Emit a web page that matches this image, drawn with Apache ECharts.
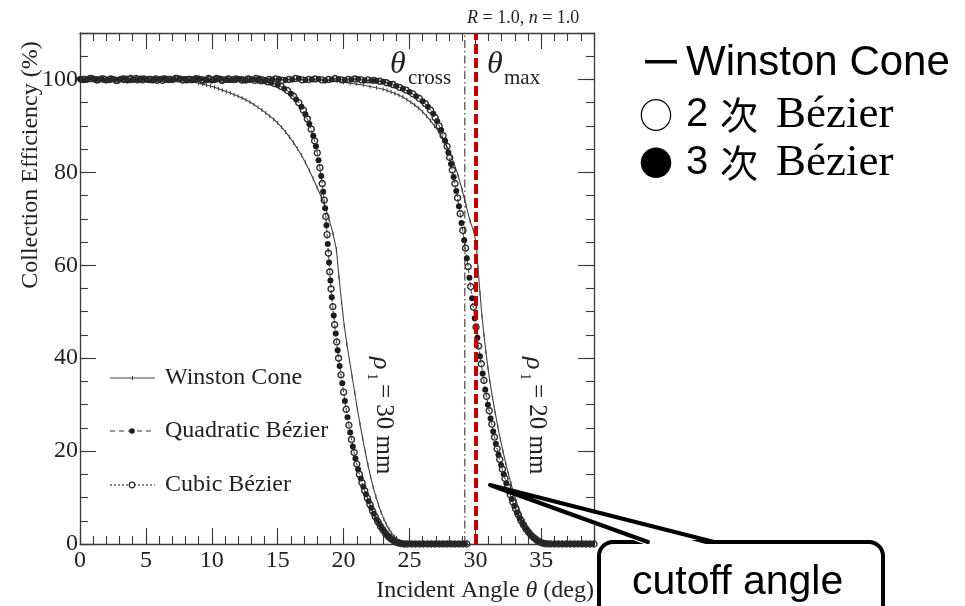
<!DOCTYPE html>
<html><head><meta charset="utf-8">
<script src="https://cdn.jsdelivr.net/npm/echarts@6/dist/echarts.min.js"></script>
<style>html,body{margin:0;padding:0;background:#fff}#c{width:965px;height:606px}</style>
</head><body><div id="c"></div>
<script>
// ---- data ----
const xTickLabels = [0, 5, 10, 15, 20, 25, 30, 35];
const yTickLabels = [0, 20, 40, 60, 80, 100];

const winston30 = [[0,100],[1,100],[2,100],[3,100],[4,100],[5,100],[6,100],[7,99.9],[8,99.7],[8.5,99.5],[9,99.2],[9.3,99],[9.6,98.8],[9.9,98.6],[10.2,98.3],[10.5,98],[10.8,97.7],[11.1,97.4],[11.4,97.1],[11.7,96.7],[12,96.4],[12.3,96],[12.6,95.6],[12.9,95.1],[13.2,94.6],[13.5,94],[13.8,93.4],[14.1,92.8],[14.4,92.1],[14.7,91.4],[15,90.6],[15.3,89.7],[15.6,88.7],[15.9,87.6],[16.2,86.4],[16.5,85.1],[16.8,83.7],[17.1,82.1],[17.4,80.4],[17.7,78.6],[18,76.7],[18.3,74.8],[18.6,72.6],[18.9,69.9],[19.2,66.8],[19.45,63.5],[19.65,57.5],[19.85,52],[20.05,47],[20.25,43],[20.45,39.5],[20.65,36],[20.85,32.5],[21.05,29],[21.25,25.8],[21.45,22.7],[21.65,19.8],[21.85,17],[22.05,14.5],[22.25,12.2],[22.45,10.2],[22.65,8.4],[22.85,6.8],[23.05,5.4],[23.25,4.2],[23.45,3.2],[23.65,2.3],[23.85,1.6],[24.05,1],[24.25,0.6],[24.45,0.3],[24.65,0.1],[24.9,0],[25.5,0],[26.5,0],[27.5,0],[28.5,0],[29.3,0]];

const winston20 = [[0,100],[2,100],[4,100],[6,100],[8,100],[10,100],[12,100],[14,100],[16,100],[18,99.9],[19,99.8],[19.5,99.6],[20,99.4],[20.5,99.2],[21,99],[21.5,98.8],[22,98.5],[22.5,98.2],[23,97.9],[23.3,97.6],[23.6,97.3],[23.9,97],[24.2,96.6],[24.5,96.2],[24.8,95.7],[25.1,95.1],[25.4,94.5],[25.7,93.8],[26,93],[26.3,92.1],[26.6,91.1],[26.9,90],[27.2,88.8],[27.5,87.4],[27.8,85.8],[28.1,84],[28.4,81.8],[28.7,79.2],[29,76.2],[29.3,72.8],[29.6,69.5],[29.85,67.5],[30.05,65],[30.2,59.5],[30.35,54],[30.5,49],[30.65,45],[30.8,41.3],[30.95,38],[31.1,35],[31.3,31.5],[31.5,28.3],[31.7,25.3],[31.9,22.5],[32.1,19.9],[32.3,17.4],[32.5,15.1],[32.7,13],[32.9,11],[33.1,9.2],[33.3,7.6],[33.5,6.2],[33.7,5],[33.9,3.9],[34.1,3],[34.3,2.2],[34.5,1.6],[34.7,1.1],[34.9,0.7],[35.1,0.4],[35.3,0.2],[35.5,0.05],[35.8,0],[36.5,0],[37.5,0],[38.5,0],[39,0]];

const quad30 = [[0,100.1],[0.5,99.9],[1,100.2],[1.5,100],[2,99.8],[2.5,100.1],[3,100],[3.5,100.2],[4,99.9],[4.5,100],[5,100.1],[5.5,99.8],[6,100],[6.5,100.2],[7,99.9],[7.5,100],[8,100.1],[8.5,99.9],[9,100.2],[9.5,100],[10,99.8],[10.5,100.1],[11,100],[11.5,99.9],[12,100.1],[12.5,99.8],[13,100],[13.5,99.8],[14,99.6],[14.5,99.3],[15,98.8],[15.5,98],[16,96.9],[16.4,95.7],[16.8,94.1],[17.1,92.5],[17.4,90.4],[17.7,87.9],[17.9,85.6],[18.1,82.6],[18.3,79.2],[18.45,75.8],[18.6,72.3],[18.7,68.6],[18.8,64.6],[18.9,60.6],[19,56.7],[19.1,53.1],[19.25,49.2],[19.4,45.3],[19.55,41.7],[19.7,38.3],[19.9,34.6],[20.1,30.8],[20.3,27.3],[20.5,24],[20.7,21],[20.9,18.4],[21.1,16.1],[21.3,14.1],[21.5,12.3],[21.7,10.7],[21.9,9.2],[22.1,7.8],[22.3,6.5],[22.5,5.3],[22.7,4.3],[22.9,3.4],[23.1,2.6],[23.3,1.9],[23.5,1.3],[23.7,0.85],[23.9,0.5],[24.1,0.25],[24.3,0.1],[24.5,0.03],[24.7,0],[25,0],[25.3,0],[25.6,0],[25.9,0],[26.2,0],[26.5,0],[26.8,0],[27.1,0],[27.4,0],[27.7,0],[28,0],[28.3,0],[28.6,0],[28.9,0],[29.2,0]];

const cubic30 = [[0.25,100],[0.75,100.2],[1.25,99.9],[1.75,100.1],[2.25,100],[2.75,99.8],[3.25,100.1],[3.75,100],[4.25,100.2],[4.75,99.9],[5.25,100],[5.75,100.1],[6.25,99.8],[6.75,100],[7.25,100.2],[7.75,99.9],[8.25,100],[8.75,100.1],[9.25,99.9],[9.75,100.2],[10.25,100],[10.75,99.8],[11.25,100.1],[11.75,100],[12.25,99.9],[12.75,100.1],[13.25,99.8],[13.75,99.7],[14.25,99.5],[14.75,99.1],[15.25,98.5],[15.75,97.6],[16.2,96.4],[16.6,95],[16.95,93.4],[17.25,91.5],[17.55,89.3],[17.8,86.8],[18,84.2],[18.2,81],[18.38,77.6],[18.53,74],[18.65,70.5],[18.75,66.6],[18.85,62.6],[18.95,58.6],[19.05,54.9],[19.18,51.1],[19.32,47.2],[19.48,43.5],[19.62,40],[19.8,36.4],[20,32.7],[20.2,29],[20.4,25.6],[20.6,22.5],[20.8,19.7],[21,17.2],[21.2,15],[21.4,13.2],[21.6,11.5],[21.8,9.9],[22,8.5],[22.2,7.1],[22.4,5.9],[22.6,4.8],[22.8,3.8],[23,3],[23.2,2.2],[23.4,1.6],[23.6,1.1],[23.8,0.7],[24,0.4],[24.2,0.2],[24.4,0.08],[24.6,0],[24.85,0],[25.15,0],[25.45,0],[25.75,0],[26.05,0],[26.35,0],[26.65,0],[26.95,0],[27.25,0],[27.55,0],[27.85,0],[28.15,0],[28.45,0],[28.75,0],[29.05,0],[29.35,0]];

const quad20 = [[0.1,99.9],[0.6,100.1],[1.1,100],[1.6,100.2],[2.1,99.9],[2.6,100],[3.1,100.1],[3.6,99.8],[4.1,100],[4.6,100.2],[5.1,99.9],[5.6,100],[6.1,100.1],[6.6,99.9],[7.1,100],[7.6,100.2],[8.1,99.8],[8.6,100],[9.1,100.1],[9.6,99.9],[10.1,100],[10.6,100.2],[11.1,99.9],[11.6,100],[12.1,100.1],[12.6,99.8],[13.1,100],[13.6,100.2],[14.1,99.9],[14.6,100],[15.1,100.1],[15.6,99.9],[16.1,100],[16.6,100.2],[17.1,99.9],[17.6,100],[18.1,100.1],[18.6,99.8],[19.1,100],[19.6,100.1],[20.1,99.9],[20.6,100],[21.1,100.1],[21.6,99.8],[22.1,99.8],[22.5,99.7],[23,99.5],[23.5,99.1],[24,98.6],[24.5,98],[25,97.3],[25.5,96.4],[26,95.3],[26.4,94.1],[26.8,92.6],[27.1,91],[27.4,89.1],[27.7,86.8],[27.95,84.3],[28.15,81.8],[28.35,79],[28.55,76],[28.75,72.7],[28.95,69.1],[29.15,65.4],[29.35,61.5],[29.55,57.3],[29.75,52.9],[29.95,48.6],[30.15,44.4],[30.35,40.4],[30.55,36.7],[30.75,33.2],[30.95,30],[31.15,27],[31.35,24.2],[31.55,21.6],[31.75,19.2],[31.95,17],[32.15,15],[32.35,13.1],[32.55,11.3],[32.75,9.7],[32.95,8.2],[33.15,6.8],[33.35,5.6],[33.55,4.5],[33.75,3.6],[33.95,2.8],[34.15,2.1],[34.35,1.5],[34.55,1],[34.75,0.6],[34.95,0.35],[35.15,0.15],[35.35,0.05],[35.55,0],[35.85,0],[36.15,0],[36.45,0],[36.75,0],[37.05,0],[37.35,0],[37.65,0],[37.95,0],[38.25,0],[38.55,0],[38.85,0]];

const cubic20 = [[0.35,100],[0.85,100.2],[1.35,99.9],[1.85,100],[2.35,100.1],[2.85,99.8],[3.35,100],[3.85,100.2],[4.35,99.9],[4.85,100.1],[5.35,100],[5.85,99.8],[6.35,100.1],[6.85,100],[7.35,100.2],[7.85,99.9],[8.35,100],[8.85,100.1],[9.35,99.8],[9.85,100],[10.35,100.2],[10.85,99.9],[11.35,100],[11.85,100.1],[12.35,99.9],[12.85,100],[13.35,100.2],[13.85,99.9],[14.35,100],[14.85,100.1],[15.35,99.8],[15.85,100],[16.35,100.2],[16.85,99.9],[17.35,100],[17.85,100.1],[18.35,99.9],[18.85,100],[19.35,100.2],[19.85,99.9],[20.35,100],[20.85,100.1],[21.35,99.9],[21.85,99.9],[22.3,99.8],[22.75,99.6],[23.25,99.3],[23.75,98.9],[24.25,98.3],[24.75,97.7],[25.25,96.9],[25.75,95.9],[26.2,94.8],[26.6,93.4],[26.95,91.8],[27.25,90],[27.55,87.9],[27.85,85.6],[28.05,83.2],[28.25,80.5],[28.45,77.6],[28.65,74.5],[28.85,71.1],[29.05,67.5],[29.25,63.7],[29.45,59.7],[29.65,55.4],[29.85,51],[30.05,46.7],[30.25,42.6],[30.45,38.8],[30.65,35.2],[30.85,31.8],[31.05,28.7],[31.25,25.8],[31.45,23],[31.65,20.5],[31.85,18.2],[32.05,16.1],[32.25,14.1],[32.45,12.3],[32.65,10.6],[32.85,9],[33.05,7.6],[33.25,6.3],[33.45,5.1],[33.65,4.1],[33.85,3.2],[34.05,2.5],[34.25,1.8],[34.45,1.3],[34.65,0.85],[34.85,0.5],[35.05,0.25],[35.25,0.1],[35.45,0.02],[35.7,0],[36,0],[36.3,0],[36.6,0],[36.9,0],[37.2,0],[37.5,0],[37.8,0],[38.1,0],[38.4,0],[38.7,0],[39,0]];

const crossLine = [[29.2,0],[29.2,110]];
const cutoffLine = [[30.05,0],[30.05,110]];

// ---- chart ----
const SERIF = '"Liberation Serif","Times New Roman",serif';
const SANS = '"Liberation Sans",Arial,sans-serif';
const CJK = '"Noto Sans CJK JP",sans-serif';
const AX = '#3a3a3a';
const INK = '#222';

function xAx(pos, interval, len, line, label) {
  return {
    type: 'value', position: pos, min: 0, max: 39, interval: interval,
    axisLine: { show: line, onZero: false, lineStyle: { color: AX, width: 1.3 } },
    axisTick: { show: true, inside: true, length: len, lineStyle: { color: AX, width: 1.1 } },
    axisLabel: label ? { show: true, margin: 5, fontFamily: SERIF, fontSize: 24, color: INK,
      formatter: v => xTickLabels.indexOf(v) >= 0 ? String(v) : '' } : { show: false },
    splitLine: { show: false }
  };
}
function yAx(pos, interval, len, line, label) {
  return {
    type: 'value', position: pos, min: 0, max: 110, interval: interval,
    axisLine: { show: line, onZero: false, lineStyle: { color: AX, width: 1.3 } },
    axisTick: { show: true, inside: true, length: len, lineStyle: { color: AX, width: 1.1 } },
    axisLabel: label ? { show: true, margin: 2, fontFamily: SERIF, fontSize: 24, color: INK,
      formatter: v => yTickLabels.indexOf(v) >= 0 ? String(v) : '' } : { show: false },
    splitLine: { show: false }
  };
}

function winstonSeries(data) {
  return { type: 'line', name: 'Winston Cone', data: data, symbol: 'rect', symbolSize: [1, 4],
    itemStyle: { color: '#444' }, lineStyle: { color: '#444', width: 1.1 }, z: 2, silent: true };
}
function quadSeries(data) {
  return { type: 'line', name: 'Quadratic Bézier', data: data, symbol: 'circle', symbolSize: 6,
    itemStyle: { color: '#1a1a1a' }, lineStyle: { color: '#333', width: 0.8, type: [4, 3] }, z: 3, silent: true };
}
function cubicSeries(data) {
  return { type: 'line', name: 'Cubic Bézier', data: data, symbol: 'circle', symbolSize: 6,
    itemStyle: { color: 'rgba(255,255,255,0)', borderColor: '#2a2a2a', borderWidth: 1.4 },
    lineStyle: { color: '#333', width: 0.8, type: [1.5, 2] }, z: 4, silent: true };
}

const T = (x, y, text, font, extra) => Object.assign({ type: 'text', x: x, y: y, z: 50,
  style: Object.assign({ text: text, font: font, fill: '#000', align: 'left', verticalAlign: 'middle',
    textAlign: 'left', textVerticalAlign: 'middle' }, extra || {}) });

function rhoGroup(x, y, label) {
  return { type: 'group', x: x, y: y, rotation: -Math.PI / 2, z: 50, children: [
    { type: 'text', x: 0, y: 3, style: { text: 'ρ', font: 'italic 26px ' + SERIF, fill: INK, verticalAlign: 'middle', textVerticalAlign: 'middle' } },
    { type: 'text', x: 16, y: 12, style: { text: '1', font: '15px ' + SERIF, fill: INK, verticalAlign: 'middle', textVerticalAlign: 'middle' } },
    { type: 'text', x: 27, y: 0, style: { text: label, font: '25px ' + SERIF, fill: INK, verticalAlign: 'middle', textVerticalAlign: 'middle' } }
  ]};
}

const option = {
  animation: false,
  backgroundColor: '#fff',
  grid: { left: 80, top: 33, width: 514, height: 511, containLabel: false, outerBoundsMode: 'none' },
  xAxis: [xAx('bottom', 5, 16, true, true), xAx('bottom', 1, 8, false, false), xAx('top', 5, 16, true, false), xAx('top', 1, 8, false, false)],
  yAxis: [yAx('left', 20, 16, true, true), yAx('left', 5, 8, false, false), yAx('right', 20, 16, true, false), yAx('right', 5, 8, false, false)],
  series: [
    winstonSeries(winston30), winstonSeries(winston20),
    quadSeries(quad30), quadSeries(quad20),
    cubicSeries(cubic30), cubicSeries(cubic20),
    { type: 'line', name: 'cross', data: crossLine, symbol: 'none', lineStyle: { color: '#222', width: 1, type: [8, 3, 1.5, 3] }, z: 6, silent: true },
    { type: 'line', name: 'cutoff', data: cutoffLine, symbol: 'none', lineStyle: { color: '#c00000', width: 4, type: [10, 4] }, z: 8, silent: true }
  ],
  graphic: [
    // axis titles
    { type: 'text', x: 31, y: 165, rotation: Math.PI / 2, z: 50, style: { text: 'Collection Efficiency (%)', font: '24px ' + SERIF, fill: INK, align: 'center', verticalAlign: 'middle', textAlign: 'center', textVerticalAlign: 'middle' } },
    { type: 'text', x: 594, y: 591, z: 50, style: { text: '{a|Incident Angle }{b|θ}{a| (deg)}', rich: { a: { fontFamily: SERIF, fontSize: 24, fill: INK }, b: { fontFamily: SERIF, fontSize: 24, fontStyle: 'italic', fill: INK } }, align: 'right', verticalAlign: 'middle', textAlign: 'right', textVerticalAlign: 'middle' } },
    { type: 'text', x: 467, y: 18, z: 50, style: { text: '{i|R}{a| = 1.0, }{i|n}{a| = 1.0}', rich: { a: { fontFamily: SERIF, fontSize: 18, fill: INK }, i: { fontFamily: SERIF, fontSize: 18, fontStyle: 'italic', fill: INK } }, align: 'left', verticalAlign: 'middle', textAlign: 'left', textVerticalAlign: 'middle' } },
    // theta labels
    T(390, 65, 'θ', 'italic 32px ' + SERIF, { fill: INK }),
    T(408, 78, 'cross', '21px ' + SERIF, { fill: INK }),
    T(487, 65, 'θ', 'italic 32px ' + SERIF, { fill: INK }),
    T(504, 78, 'max', '21px ' + SERIF, { fill: INK }),
    // rho labels
    rhoGroup(384, 357, '= 30 mm'),
    rhoGroup(537, 357, '= 20 mm'),
    // inner legend
    { type: 'line', z: 50, shape: { x1: 110, y1: 378, x2: 155, y2: 378 }, style: { stroke: '#444', lineWidth: 1.2 } },
    { type: 'line', z: 50, shape: { x1: 132.5, y1: 376, x2: 132.5, y2: 380 }, style: { stroke: '#444', lineWidth: 1 } },
    T(165, 378, 'Winston Cone', '24px ' + SERIF, { fill: INK }),
    { type: 'line', z: 50, shape: { x1: 110, y1: 431, x2: 155, y2: 431 }, style: { stroke: '#333', lineWidth: 1.2, lineDash: [5, 4] } },
    { type: 'circle', z: 51, shape: { cx: 132, cy: 431, r: 2.8 }, style: { fill: '#1a1a1a' } },
    T(165, 431, 'Quadratic Bézier', '24px ' + SERIF, { fill: INK }),
    { type: 'line', z: 50, shape: { x1: 110, y1: 485, x2: 155, y2: 485 }, style: { stroke: '#333', lineWidth: 1.2, lineDash: [2, 2] } },
    { type: 'circle', z: 51, shape: { cx: 132, cy: 485, r: 2.8 }, style: { fill: '#fff', stroke: '#2a2a2a', lineWidth: 1.2 } },
    T(165, 485, 'Cubic Bézier', '24px ' + SERIF, { fill: INK }),
    // right legend
    T(641, 62, 'ー', '40px ' + CJK),
    T(686, 63, 'Winston Cone', '42px ' + SANS),
    T(639, 115, '○', '34px ' + CJK),
    T(686, 115, '2', '40px ' + SANS),
    T(720, 115, '次', '38px ' + CJK),
    T(776, 115, 'Bézier', '45px ' + SERIF),
    T(639, 163, '●', '34px ' + CJK),
    T(686, 163, '3', '40px ' + SANS),
    T(720, 163, '次', '38px ' + CJK),
    T(776, 163, 'Bézier', '45px ' + SERIF),
    // callout
    { type: 'rect', z: 60, shape: { x: 599, y: 542, width: 284, height: 100, r: 14 }, style: { fill: '#fff', stroke: '#000', lineWidth: 4 } },
    { type: 'polygon', z: 61, shape: { points: [[649, 546], [490, 485], [713, 546]] }, style: { fill: '#fff' } },
    { type: 'polyline', z: 62, shape: { points: [[648, 542], [490, 485], [714, 542]] }, style: { stroke: '#000', lineWidth: 4, lineJoin: 'round', lineCap: 'round', fill: null } },
    Object.assign(T(632, 583, 'cutoff angle', '41px ' + SANS), { z: 63 })
  ]
};

const chart = echarts.init(document.getElementById('c'), null, { renderer: 'canvas' });
chart.setOption(option);
</script></body></html>
